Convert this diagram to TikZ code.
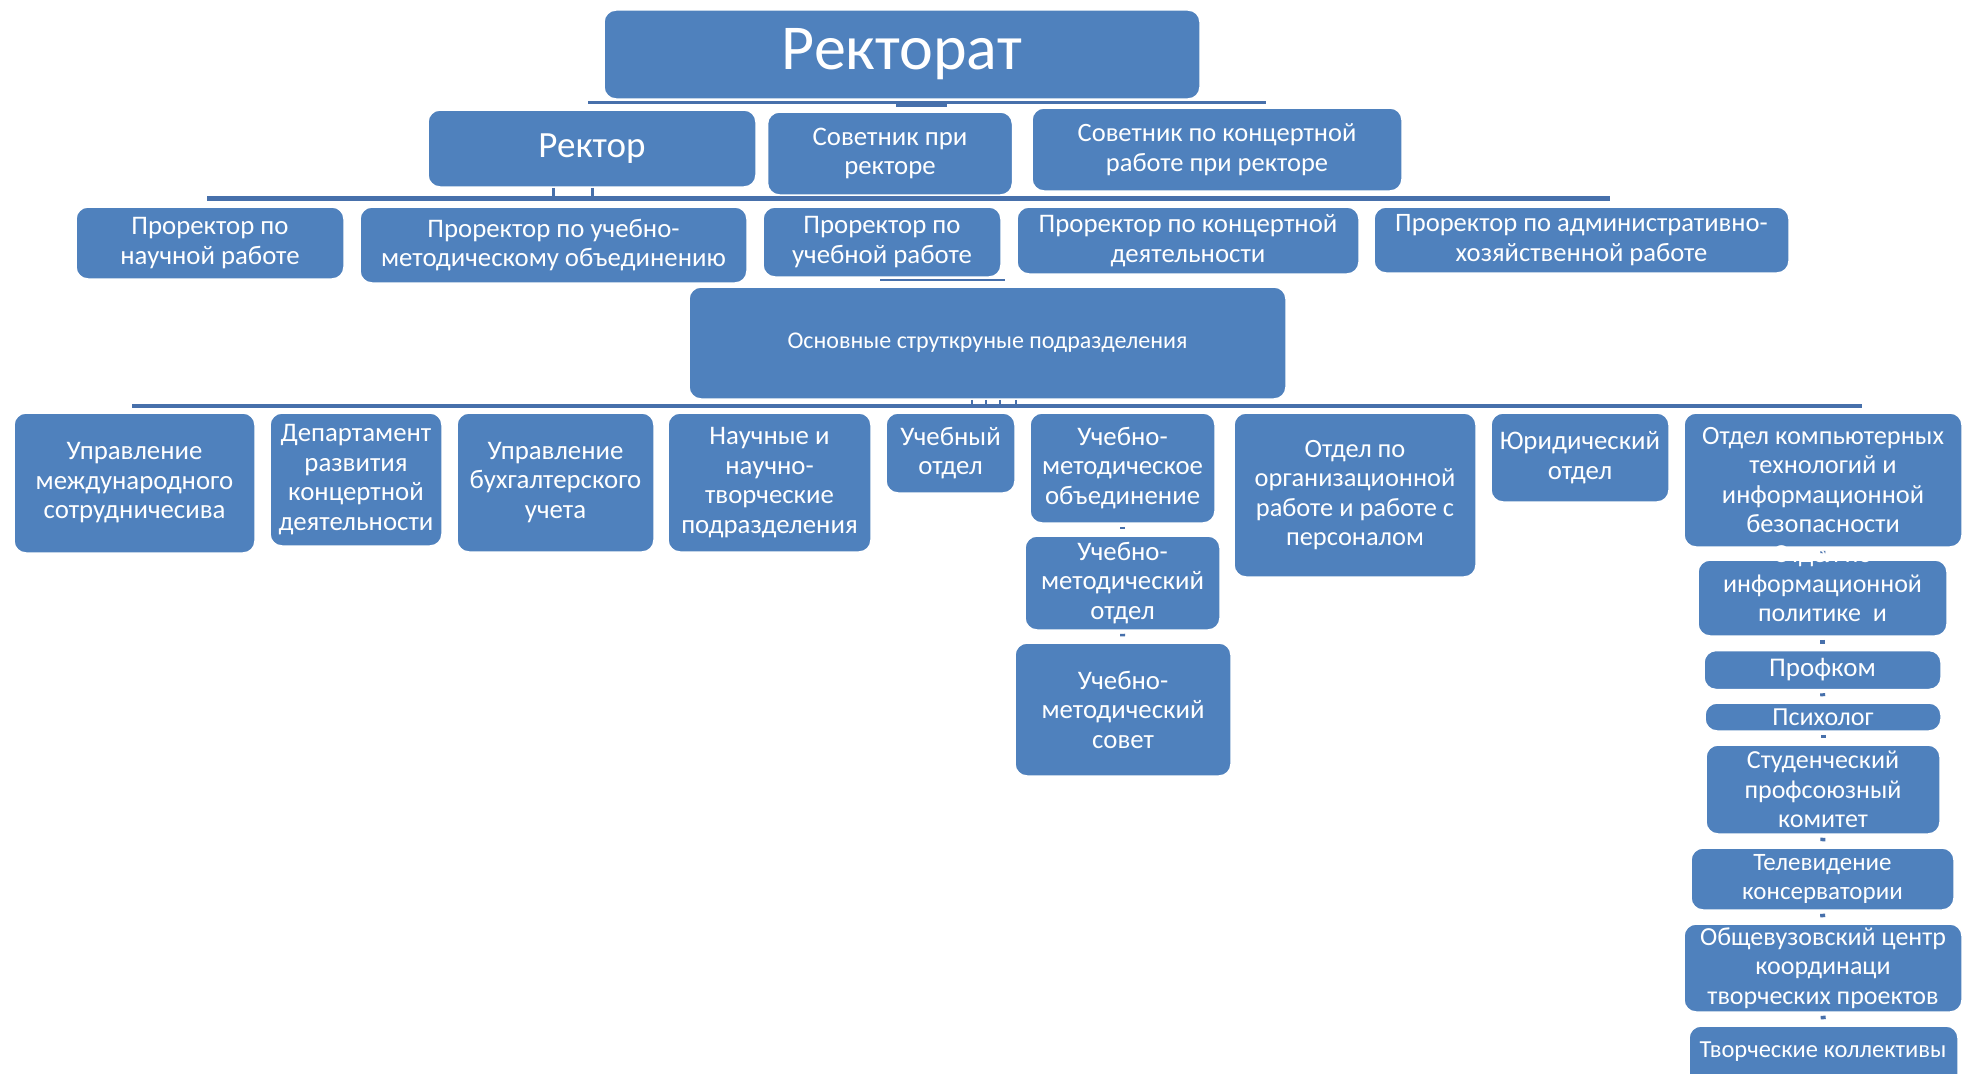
\documentclass[tikz,border=0pt]{standalone}
\usepackage{fontspec}
\setmainfont{Carlito}
\definecolor{boxblue}{RGB}{79,129,189}
\definecolor{lineblue}{RGB}{71,112,171}
\begin{document}
\begin{tikzpicture}[x=1pt,y=-1pt,
  box/.style={rectangle, rounded corners=12pt, fill=boxblue, draw=white, line width=1.5pt,
    text=white, align=center, inner sep=0pt, font=\fontsize{26.8}{29.5}\selectfont},
  sz/.style 2 args={minimum width=#1pt, minimum height=#2pt},
  txt/.style={text=white, align=center, inner sep=0pt, font=\fontsize{26}{29.5}\selectfont},
  fs/.style={font=\fontsize{#1}{29.5}\selectfont},
  bus/.style={draw=lineblue},
  stub/.style={draw=lineblue, line width=5pt, shorten <=3pt, shorten >=6pt},
  tick/.style={draw=lineblue, line width=3pt}]
\useasboundingbox (0,0) rectangle (1964,1073);
\clip (0,0) rectangle (1964,1073);
\fill[white] (0,0) rectangle (1964,1073);

% bus lines
\coordinate (b0l) at (588,102); \coordinate (b0r) at (1266,102);
\coordinate (b1l) at (207,198); \coordinate (b1r) at (1610,198);
\coordinate (b2l) at (880,280); \coordinate (b2r) at (1005,280);
\coordinate (b3l) at (132,406); \coordinate (b3r) at (1862,406);
\draw[bus, line width=3pt] (b0l) -- (b0r);
\draw[bus, line width=5pt] (b1l) -- (b1r);
\draw[bus, line width=2pt] (b2l) -- (b2r);
\draw[bus, line width=4pt] (b3l) -- (b3r);
\fill[lineblue] (896,101) rectangle (947,107);

% level 1-2
\node[box, sz={596}{89}, font=\fontsize{64}{70}\selectfont] (rektorat) at (902,54.5) {Ректорат};
\node[box, sz={328}{77}, font=\fontsize{37}{44}\selectfont] (rektor) at (592,148.5) {Ректор};
\node[box, sz={245}{83}] (sov1) at (890,153.5) {Советник при\\ректоре};
\node[box, sz={370}{83}, fs=26.5] (sov2) at (1217,149.5) {Советник по концертной\\работе при ректоре};
\draw[tick] ([xshift=-39pt]rektor.south) -- ++(0,11);
\draw[tick] (rektor.south) -- ++(0,11);

% level 3
\node[box, sz={268}{72}] (pr1) at (210,243) {Проректор по\\научной работе};
\node[box, sz={387}{76}] (pr2) at (553.5,245) {Проректор по учебно-\\методическому объединению};
\node[box, sz={238}{70}] (pr3) at (882,242) {Проректор по\\учебной работе};
\node[box, sz={342}{67}] (pr4) at (1188,240.5) {Проректор по концертной\\деятельности};
\node[box, sz={415}{66}, fs=26.6] (pr5) at (1581.5,240) {Проректор по административно-\\хозяйственной работе};

% main units
\node[box, sz={597}{112}, font=\fontsize{24}{28}\selectfont] (osn) at (987.5,343) {Основные струткруные подразделения};
\foreach \dx in {-15.5,-1.5,12.5,28.5} \draw[draw=lineblue, line width=2pt] ([xshift=\dx pt]osn.south) -- ++(0,5);

% level 5
\node[box, sz={241}{140}] (u1) at (134.5,483) {Управление\\международного\\сотрудничесива};
\node[box, sz={172}{133}] (u2) at (356,479.5) {Департамент\\развития\\концертной\\деятельности};
\node[box, sz={197}{139}] (u3) at (555.5,482.5) {Управление\\бухгалтерского\\учета};
\node[box, sz={203}{139}] (u4) at (769.5,482.5) {Научные и\\научно-\\творческие\\подразделения};
\node[box, sz={129}{80}] (u5) at (950.5,453) {Учебный\\отдел};
\node[box, sz={185}{110}] (u6) at (1122.5,468) {Учебно-\\методическое\\объединение};
\node[box, sz={242}{164}, fs=26.4] (u7) at (1355,495) {Отдел по\\организационной\\работе и работе с\\персоналом};
\node[box, sz={178}{89}] (u8) at (1580,457.5) {Юридический\\отдел};
\node[box, sz={278}{134}, fs=26.4] (u9) at (1823,480) {Отдел компьютерных\\технологий и\\информационной\\безопасности};

\node[box, sz={195}{94}] (u6a) at (1122.5,583) {Учебно-\\методический\\отдел};
\node[box, sz={216}{133}] (u6b) at (1123,709.5) {Учебно-\\методический\\совет};

% right column
\node[box, sz={249}{76}] (r1) at (1822.5,598) {};
\node[box, sz={237}{39}, fs=27] (r2) at (1822.5,670) {Профком};
\node[box, sz={236}{28}, fs=26] (r3) at (1823,717) {Психолог};
\node[box, sz={234}{89}, fs=26] (r4) at (1823,789.5) {Студенческий\\профсоюзный\\комитет};
\node[box, sz={263}{62}, fs=25] (r5) at (1822.5,879) {Телевидение\\консерватории};
\node[box, sz={278}{88}, fs=26] (r6) at (1823,968) {Общевузовский центр\\координаци\\творческих проектов};
\node[box, sz={269}{70}] (r7) at (1823.5,1061) {};

\draw[stub] (u6) -- (u6a);
\draw[stub] (u6a) -- (u6b);
\draw[stub] (u9.south) -- (r1.north);
\foreach \a/\b in {r1/r2,r2/r3,r3/r4,r4/r5,r5/r6,r6/r7} \draw[stub] (\a.south) -- (\b.north);

\node[txt] (r1t) at (1822.5,584) {Отдел по\\информационной\\политике\ \ и};
\node[txt, font=\fontsize{24.5}{29}\selectfont] (r7t) at (1823,1052) {Творческие коллективы};
\end{tikzpicture}
\end{document}
